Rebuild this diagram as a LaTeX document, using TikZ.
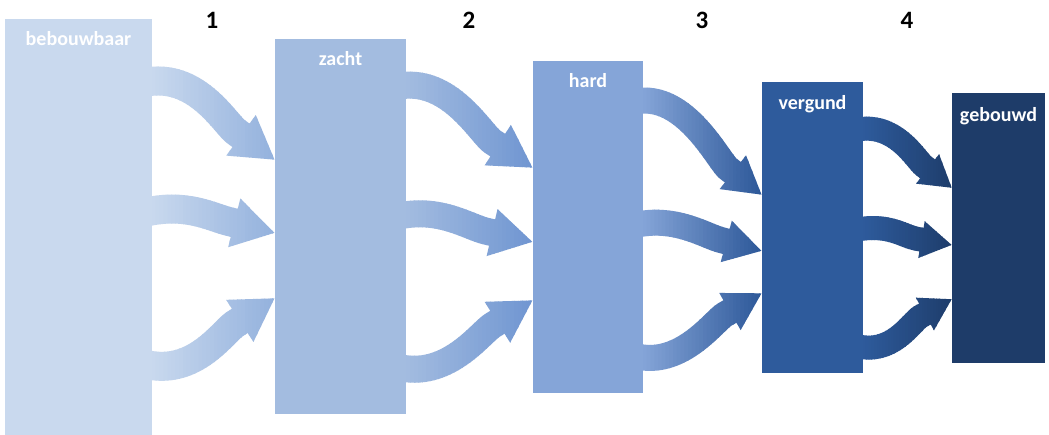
\documentclass[tikz,border=0pt]{standalone}
\usepackage{fontspec}
\setmainfont{Carlito}
\usetikzlibrary{arrows.meta,calc}
\definecolor{boxA}{HTML}{C9D9EE}
\definecolor{boxB}{HTML}{A3BCE0}
\definecolor{boxC}{HTML}{85A5D8}
\definecolor{boxD}{HTML}{2E5B9C}
\definecolor{boxE}{HTML}{1E3C69}
\definecolor{arrAR}{HTML}{93B1DD}
\definecolor{arrBR}{HTML}{6F95D1}
\definecolor{arrCR}{HTML}{2C5798}
\definecolor{arrDR}{HTML}{1E3D6B}
% name, sx, sy, tx, ty, angle, back
\newcommand\defflow[7]{%
  \coordinate (#1s) at (#2,#3);
  \coordinate (#1t) at (#4,#5);
  \coordinate (#1h) at ($(#1t)+(180+#6:#7)$);}
% style, name, c1x, c1y, angle, k
\newcommand\flowarr[6]{%
  \draw[#1, color=arrc] (#2s) .. controls +(#3,#4) and +(180+#5:#6) .. (#2h) -- (#2t);}
\newcommand\gradstrips[4]{%
  \foreach \i in {0,...,31}{%
    \pgfmathsetmacro\xa{#1+(#2-#1)*\i/32}%
    \pgfmathsetmacro\xb{#1+(#2-#1)*(\i+1)/32+0.7}%
    \pgfmathtruncatemacro\pc{round(100*(\i+0.5)/32)}%
    \begin{scope}
      \clip (\xa,-5) rectangle (\xb,440);
      \colorlet{arrc}{#4!\pc!#3}%
      \segbody
    \end{scope}}}
\begin{document}
\begin{tikzpicture}[x=1pt,y=-1pt,
  box/.style={draw=none, inner sep=0pt, outer sep=0pt, anchor=north west},
  lbl/.style={text=white, font=\fontsize{20}{24}\selectfont\bfseries, anchor=base, inner sep=0pt},
  num/.style={text=black, font=\fontsize{25}{28}\selectfont\bfseries, anchor=base, inner sep=0pt},
  flowA/.style={line width=29pt, line cap=butt, -{Triangle[length=42pt,width=47pt]}},
  flowB/.style={line width=27pt, line cap=butt, -{Triangle[length=42pt,width=45pt]}},
  flowC/.style={line width=26pt, line cap=butt, -{Triangle[length=37pt,width=40pt]}},
  flowD/.style={line width=24pt, line cap=butt, -{Triangle[length=31pt,width=35pt]}}]
\useasboundingbox (0,0) rectangle (1049,434);
\fill[white] (0,0) rectangle (1049,434);

% flow coordinates
\defflow{a1}{144}{82.5}{275}{160}{36}{48}
\defflow{a2}{144}{212.5}{275}{233}{14}{48}
\defflow{a3}{144}{364}{275}{298}{-33}{48}
\defflow{b1}{397}{86.5}{533}{168}{33}{48}
\defflow{b2}{397}{216.5}{533}{242}{13}{48}
\defflow{b3}{397}{367}{533}{300}{-32}{48}
\defflow{c1}{635}{101.5}{762}{195}{38}{43}
\defflow{c2}{635}{225}{762}{251}{15}{43}
\defflow{c3}{635}{356}{762}{293}{-30}{43}
\defflow{d1}{855}{130}{952}{188}{38}{36}
\defflow{d2}{855}{230}{952}{245}{10}{36}
\defflow{d3}{855}{345.5}{952}{299}{-29}{36}

% arrows with left-to-right colour gradient
\def\segbody{\flowarr{flowA}{a1}{52}{-11}{36}{14}\flowarr{flowA}{a2}{42}{-10}{14}{18}\flowarr{flowA}{a3}{50}{13}{-33}{14}}
\gradstrips{152}{276}{boxA}{arrAR}
\def\segbody{\flowarr{flowB}{b1}{52}{-11}{33}{14}\flowarr{flowB}{b2}{42}{-10}{13}{18}\flowarr{flowB}{b3}{50}{13}{-32}{14}}
\gradstrips{406}{534}{boxB}{arrBR}
\def\segbody{\flowarr{flowC}{c1}{50}{-10}{38}{12}\flowarr{flowC}{c2}{40}{-9}{15}{16}\flowarr{flowC}{c3}{46}{12}{-30}{12}}
\gradstrips{643}{763}{boxC}{arrCR}
\def\segbody{\flowarr{flowD}{d1}{40}{-9}{38}{10}\flowarr{flowD}{d2}{33}{-7}{10}{13}\flowarr{flowD}{d3}{37}{11}{-29}{10}}
\gradstrips{863}{953}{boxD}{arrDR}

% boxes
\node[box, fill=boxA, minimum width=147pt, minimum height=416pt] (b1) at (5,19) {};
\node[box, fill=boxB, minimum width=131pt, minimum height=375pt] (b2) at (275,39) {};
\node[box, fill=boxC, minimum width=110pt, minimum height=332pt] (b3) at (533,61) {};
\node[box, fill=boxD, minimum width=101pt, minimum height=291pt] (b4) at (762,82) {};
\node[box, fill=boxE, minimum width=93pt, minimum height=270pt] (b5) at (952,93) {};

% labels
\node[lbl] (l1) at ($(b1.north)+(0,26)$) {bebouwbaar};
\node[lbl] (l2) at ($(b2.north)+(0,26)$) {zacht};
\node[lbl] (l3) at ($(b3.north)+(0,26)$) {hard};
\node[lbl] (l4) at ($(b4.north)+(0,27)$) {vergund};
\node[lbl] (l5) at ($(b5.north)+(0,28)$) {gebouwd};

% step numbers
\node[num] (n1) at (212,28) {1};
\node[num] (n2) at (469,28) {2};
\node[num] (n3) at (702,28) {3};
\node[num] (n4) at (907,28) {4};
\end{tikzpicture}
\end{document}
